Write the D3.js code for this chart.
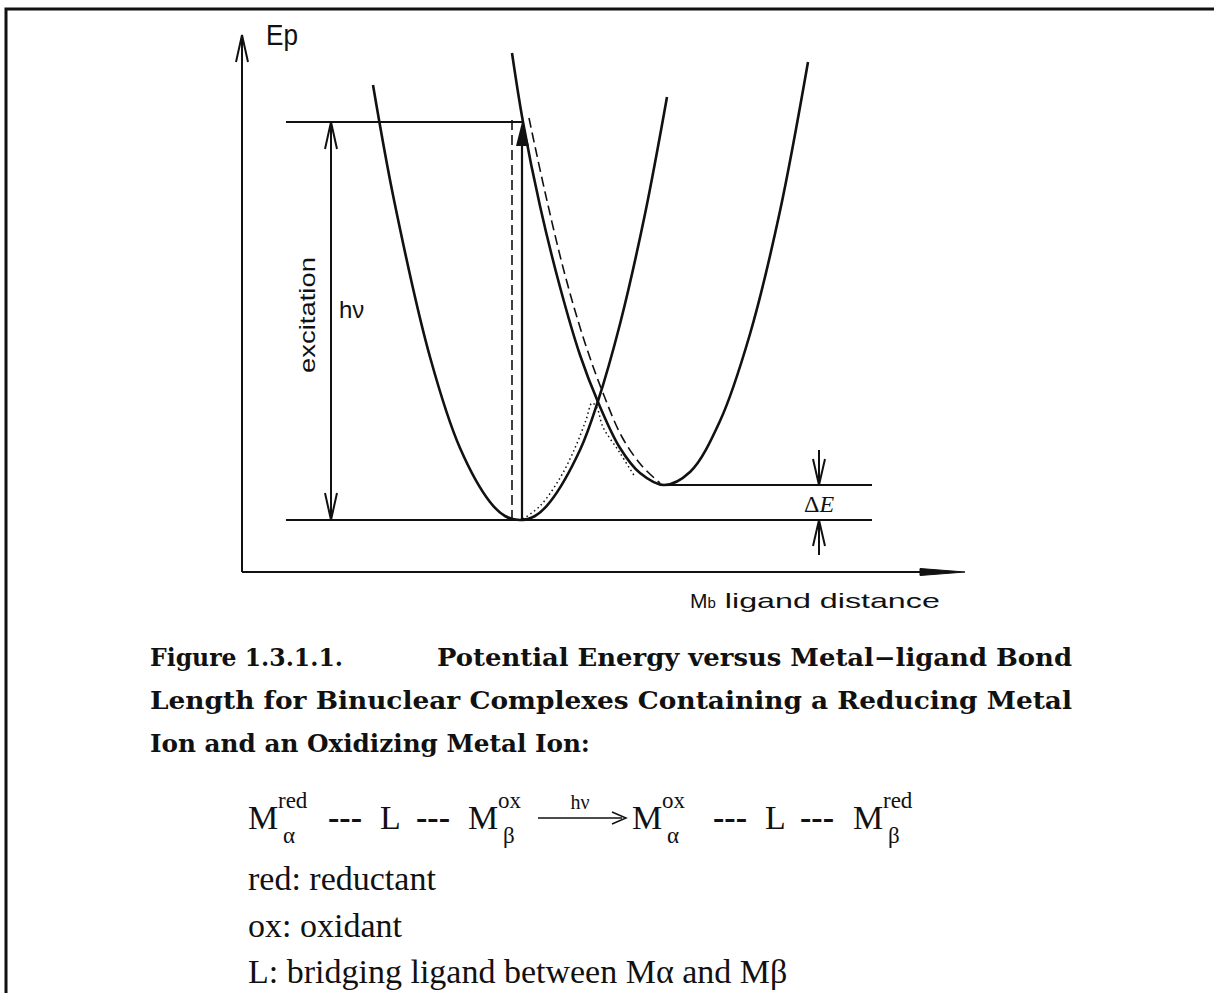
<!DOCTYPE html>
<html><head><meta charset="utf-8">
<script src="https://cdn.jsdelivr.net/npm/d3@7"></script>
<style>body{margin:0;background:#fff}svg{display:block}</style>
</head><body>
<svg id="c" width="1214" height="993"></svg>
<script>
// ---- data (units: distance / energy, arbitrary) ----
const groundCurve = [[13.1,48.7],[15.2,37.2],[18.8,21.5],[21.8,12.4],[24.8,7.0],[26.3,5.6],[27.8,5.2],[29.3,5.6],[30.8,7.0],[33.8,12.2],[35.6,17.1],[37.8,24.8],[40.3,35.8],[42.5,47.5]];
const excitedCurve = [[27.0,51.9],[28.1,45.0],[29.8,36.6],[31.8,28.5],[33.8,21.7],[35.6,17.0],[37.8,12.4],[39.8,9.9],[42.2,8.7],[44.8,10.0],[47.8,15.1],[50.8,23.8],[53.8,36.1],[56.6,51.0]];
const dashedCurve = [[28.7,45.4],[30.3,38.0],[32.3,29.7],[34.3,22.9],[36.1,17.9],[38.0,13.5],[40.0,10.6],[41.8,8.9]];
const dottedCurve = [[28.1,5.3],[29.8,6.6],[31.8,9.4],[33.3,12.4],[34.4,15.2],[35.0,16.9],[35.5,16.4],[36.1,14.5],[37.8,11.9],[39.3,9.5]];
const levels = {ground:5.2, excitedMin:8.7, franckCondon:45.0};
const refStart = 4.4, deltaEEnd = 63.0, deltaEx = 57.7;
const excitationX = 8.9, hvX = 28.0, dashX = 27.0, excitedMinX = 42.2;
const axisLabels = {y:"Ep", x:"ligand distance", exc:"excitation", hv:"h\u03BD", dE:"E"};
const captionLines = [
  ["Figure 1.3.1.1.", "Potential Energy versus Metal\u2212ligand Bond"],
  ["Length for Binuclear Complexes Containing a Reducing Metal"],
  ["Ion and an Oxidizing Metal Ion:"]
];
const legendLines = ["red: reductant","ox: oxidant"];

// ---- drawing ----
const svg = d3.select("#c");
const x = d3.scaleLinear().domain([0,72.3]).range([242,965]);
const y = d3.scaleLinear().domain([0,53.7]).range([572,35]);
const ink = "#111";

// frame
svg.append("path").attr("d","M6,993 L6,9 L1214,9").attr("fill","none").attr("stroke",ink).attr("stroke-width",3);

const line = d3.line().x(d=>x(d[0])).y(d=>y(d[1])).curve(d3.curveCatmullRom.alpha(0.5));
const g = svg.append("g");

// axes
g.append("line").attr("x1",x(0)).attr("y1",y(0)).attr("x2",x(0)).attr("y2",y(53.7)).attr("stroke",ink).attr("stroke-width",2);
g.append("path").attr("d",`M${x(0)-6},${y(53.7)+27} L${x(0)},${y(53.7)} L${x(0)+6},${y(53.7)+27}`).attr("fill","none").attr("stroke",ink).attr("stroke-width",2);
g.append("line").attr("x1",x(0)).attr("y1",y(0)).attr("x2",x(72.3)-10).attr("y2",y(0)).attr("stroke",ink).attr("stroke-width",2);
g.append("path").attr("d",`M${x(72.3)-45},${y(0)-3.5} L${x(72.3)},${y(0)} L${x(72.3)-45},${y(0)+3.5} Z`).attr("fill",ink).attr("stroke",ink).attr("stroke-width",1);

// level lines
g.append("line").attr("x1",x(refStart)).attr("x2",x(hvX)).attr("y1",y(levels.franckCondon)).attr("y2",y(levels.franckCondon)).attr("stroke",ink).attr("stroke-width",2);
g.append("line").attr("x1",x(refStart)).attr("x2",x(deltaEEnd)).attr("y1",y(levels.ground)).attr("y2",y(levels.ground)).attr("stroke",ink).attr("stroke-width",2);
g.append("line").attr("x1",x(excitedMinX)).attr("x2",x(deltaEEnd)).attr("y1",y(levels.excitedMin)).attr("y2",y(levels.excitedMin)).attr("stroke",ink).attr("stroke-width",2);

// curves
g.append("path").attr("d",line(groundCurve)).attr("fill","none").attr("stroke",ink).attr("stroke-width",2.6);
g.append("path").attr("d",line(excitedCurve)).attr("fill","none").attr("stroke",ink).attr("stroke-width",2.6);
g.append("path").attr("d",line(dashedCurve)).attr("fill","none").attr("stroke",ink).attr("stroke-width",1.6).attr("stroke-dasharray","10,5");
g.append("path").attr("d",line(dottedCurve)).attr("fill","none").attr("stroke",ink).attr("stroke-width",1.5).attr("stroke-dasharray","1.5,3");

// vertical transitions
g.append("line").attr("x1",x(dashX)).attr("x2",x(dashX)).attr("y1",y(levels.ground)).attr("y2",y(levels.franckCondon)-2).attr("stroke",ink).attr("stroke-width",1.6).attr("stroke-dasharray","10,5");
g.append("line").attr("x1",x(hvX)).attr("x2",x(hvX)).attr("y1",y(levels.ground)).attr("y2",y(levels.franckCondon)+10).attr("stroke",ink).attr("stroke-width",2.2);
g.append("path").attr("d",`M${x(hvX)},${y(levels.franckCondon)} L${x(hvX)-6},${y(levels.franckCondon)+24} L${x(hvX)+7},${y(levels.franckCondon)+24} Z`).attr("fill",ink);

// excitation double arrow
const ex = x(excitationX), yt = y(levels.franckCondon), yb = y(levels.ground);
g.append("line").attr("x1",ex).attr("x2",ex).attr("y1",yt).attr("y2",yb).attr("stroke",ink).attr("stroke-width",2);
g.append("path").attr("d",`M${ex-6},${yt+27} L${ex},${yt} L${ex+6},${yt+27} M${ex-6},${yb-27} L${ex},${yb} L${ex+6},${yb-27}`).attr("fill","none").attr("stroke",ink).attr("stroke-width",2);

// delta E arrows
const dx = x(deltaEx), yu = y(levels.excitedMin), yl = y(levels.ground);
g.append("path").attr("d",`M${dx},${y(12.2)} L${dx},${yu} M${dx-6},${yu-26} L${dx},${yu} L${dx+6},${yu-26}`).attr("fill","none").attr("stroke",ink).attr("stroke-width",2);
g.append("path").attr("d",`M${dx},${y(1.7)} L${dx},${yl} M${dx-6},${yl+26} L${dx},${yl} L${dx+6},${yl+26}`).attr("fill","none").attr("stroke",ink).attr("stroke-width",2);
const dE = g.append("text").attr("x",dx).attr("y",(yu+yl)/2+9).attr("text-anchor","middle").attr("font-family","Liberation Serif").attr("font-size",24).attr("fill",ink);
dE.append("tspan").text("\u0394");
dE.append("tspan").attr("font-style","italic").text(axisLabels.dE);

// axis labels
const sans = "Liberation Sans";
g.append("text").attr("x",266).attr("y",45).attr("font-family",sans).attr("font-size",29).attr("textLength",32).attr("lengthAdjust","spacingAndGlyphs").attr("fill",ink).text(axisLabels.y);
const xl = g.append("text").attr("x",690).attr("y",608).attr("font-family",sans).attr("font-size",21).attr("fill",ink);
xl.append("tspan").text("M");
xl.append("tspan").attr("font-size",15).text("b");
xl.append("tspan").attr("dx",9).attr("textLength",215).attr("lengthAdjust","spacingAndGlyphs").text(axisLabels.x);
g.append("text").attr("transform","translate(315,315) rotate(-90)").attr("text-anchor","middle").attr("font-family",sans).attr("font-size",22).attr("textLength",116).attr("lengthAdjust","spacingAndGlyphs").attr("fill",ink).text(axisLabels.exc);
g.append("text").attr("x",339).attr("y",318).attr("font-family",sans).attr("font-size",24).attr("fill",ink).text(axisLabels.hv);

// caption
const serifB = "DejaVu Serif";
const capBase = [666,709,752];
function cap(xp, yp, len, s){
  svg.append("text").attr("x",xp).attr("y",yp).attr("font-family",serifB).attr("font-weight","bold").attr("font-size",23.5).attr("textLength",len).attr("lengthAdjust","spacingAndGlyphs").attr("fill",ink).text(s);
}
cap(150, capBase[0], 193, captionLines[0][0]);
cap(437, capBase[0], 635, captionLines[0][1]);
cap(150, capBase[1], 922, captionLines[1][0]);
cap(150, capBase[2], 440, captionLines[2][0]);

// equation
const serif = "Liberation Serif";
const eqY = 829;
function M(xp, sup, sub){
  svg.append("text").attr("x",xp).attr("y",eqY).attr("font-family",serif).attr("font-size",34).attr("fill",ink).text("M");
  svg.append("text").attr("x",xp+30).attr("y",eqY-21).attr("font-family",serif).attr("font-size",23).attr("fill",ink).text(sup);
  svg.append("text").attr("x",xp+35).attr("y",eqY+14).attr("font-family",serif).attr("font-size",23).attr("fill",ink).text(sub);
}
function T(xp, s, bold){ svg.append("text").attr("x",xp).attr("y",eqY).attr("font-family",serif).attr("font-size",34).attr("font-weight",bold?"bold":"normal").attr("fill",ink).text(s); }
M(248,"red","\u03B1"); T(328,"---",true); T(380,"L"); T(416,"---",true);
M(468,"ox","\u03B2");
svg.append("line").attr("x1",538).attr("x2",622).attr("y1",eqY-11).attr("y2",eqY-11).attr("stroke",ink).attr("stroke-width",1.5);
svg.append("path").attr("d",`M612,${eqY-17} L626,${eqY-11} L612,${eqY-5}`).attr("fill","none").attr("stroke",ink).attr("stroke-width",1.5);
svg.append("text").attr("x",580).attr("y",eqY-20).attr("text-anchor","middle").attr("font-family",serif).attr("font-size",20).attr("fill",ink).text("h\u03BD");
M(632,"ox","\u03B1"); T(713,"---",true); T(765,"L"); T(800,"---",true);
M(853,"red","\u03B2");

// legend lines
const legendSize = 34;
svg.append("text").attr("x",248).attr("y",890).attr("font-family",serif).attr("font-size",legendSize).attr("fill",ink).text(legendLines[0]);
svg.append("text").attr("x",248).attr("y",937).attr("font-family",serif).attr("font-size",legendSize).attr("fill",ink).text(legendLines[1]);
const ll = svg.append("text").attr("x",248).attr("y",983).attr("font-family",serif).attr("font-size",legendSize).attr("fill",ink);
ll.append("tspan").text("L: bridging ligand between M");
ll.append("tspan").text("\u03B1");
ll.append("tspan").text(" and M");
ll.append("tspan").text("\u03B2");
</script>
</body></html>
